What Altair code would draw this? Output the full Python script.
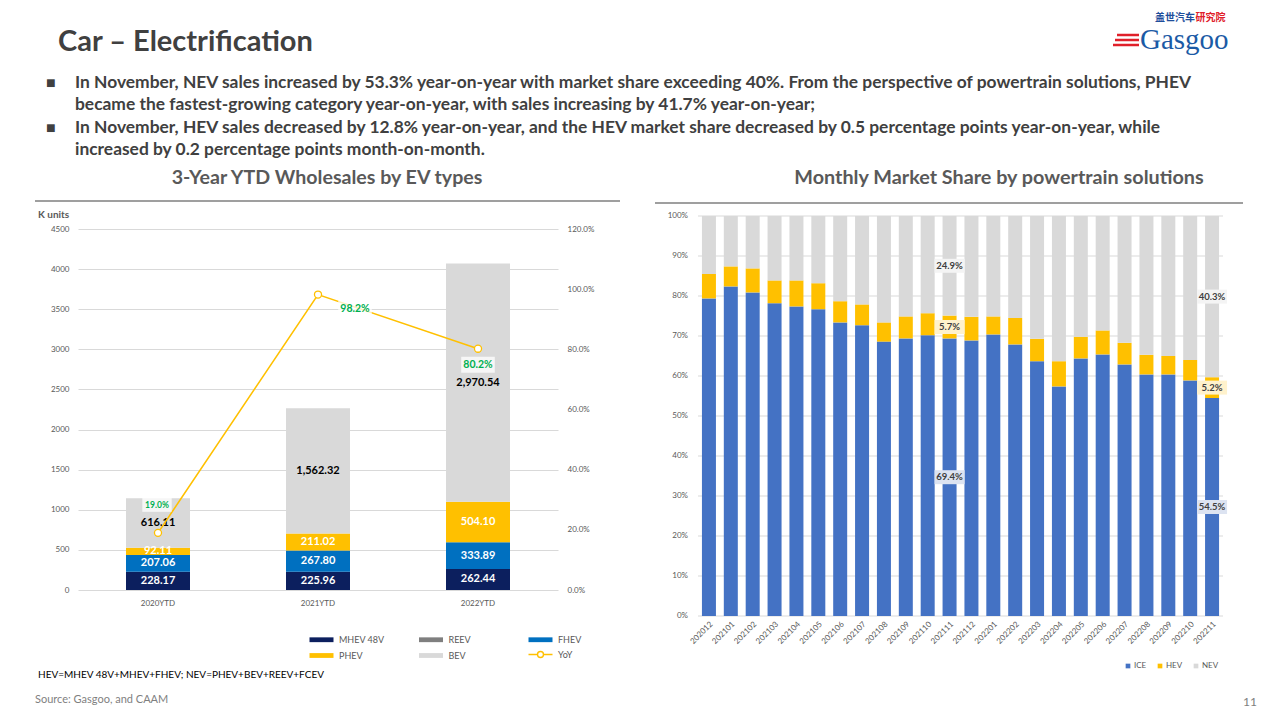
import altair as alt
import pandas as pd

FONT = "Lato"
TXT_DARK = "#404040"
TXT_GRAY = "#595959"
GRID = "#D9D9D9"

# ---------------- slide texts ----------------
slide_title = "Car – Electrification"
bullet_lines = [
    "In November, NEV sales increased by 53.3% year-on-year with market share exceeding 40%. From the perspective of powertrain solutions, PHEV",
    "became the fastest-growing category year-on-year, with sales increasing by 41.7% year-on-year;",
    "In November, HEV sales decreased by 12.8% year-on-year, and the HEV market share decreased by 0.5 percentage points year-on-year, while",
    "increased by 0.2 percentage points month-on-month.",
]
left_title = "3-Year YTD Wholesales by EV types"
right_title = "Monthly Market Share by powertrain solutions"
unit_label = "K units"
note_text = "HEV=MHEV 48V+MHEV+FHEV; NEV=PHEV+BEV+REEV+FCEV"
source_text = "Source: Gasgoo, and CAAM"
page_no = "11"

# ---------------- left chart data ----------------
years = ["2020YTD", "2021YTD", "2022YTD"]
mhev48v = [228.17, 225.96, 262.44]
fhev = [207.06, 267.80, 333.89]
phev = [92.11, 211.02, 504.10]
bev = [616.11, 1562.32, 2970.54]
yoy = [0.190, 0.982, 0.802]
# legend order (filled column by column: MHEV 48V/PHEV, REEV/BEV, FHEV)
ev_types = ["MHEV 48V", "PHEV", "REEV", "BEV", "FHEV"]
ev_colors = ["#0C1F5E", "#FFC000", "#7F7F7F", "#D9D9D9", "#0070C0"]
left_ticks = [0, 500, 1000, 1500, 2000, 2500, 3000, 3500, 4000, 4500]
yoy_ticks = [0, 0.2, 0.4, 0.6, 0.8, 1.0, 1.2]

# ---------------- right chart data ----------------
months = ["202012", "202101", "202102", "202103", "202104", "202105", "202106",
          "202107", "202108", "202109", "202110", "202111", "202112", "202201",
          "202202", "202203", "202204", "202205", "202206", "202207", "202208",
          "202209", "202210", "202211"]
ice_share = [79.4, 82.4, 80.9, 78.2, 77.4, 76.7, 73.4, 72.7, 68.6, 69.4, 70.2, 69.4,
             68.9, 70.4, 67.9, 63.7, 57.4, 64.4, 65.4, 62.9, 60.4, 60.4, 58.9, 54.5]
hev_share = [6.1, 5.0, 6.0, 5.7, 6.5, 6.5, 5.3, 5.2, 4.8, 5.5, 5.5, 5.7,
             5.9, 4.5, 6.6, 5.6, 6.3, 5.4, 6.0, 5.4, 4.9, 4.6, 5.1, 5.2]
nev_share = [14.5, 12.6, 13.1, 16.1, 16.1, 16.8, 21.3, 22.1, 26.6, 25.1, 24.3, 24.9,
             25.2, 25.1, 25.5, 30.7, 36.3, 30.2, 28.6, 31.7, 34.7, 35.0, 36.0, 40.3]
share_types = ["ICE", "HEV", "NEV"]
share_colors = ["#4472C4", "#FFC000", "#D9D9D9"]
share_label_boxes = ["#DCE3F1", "#FFF2CC", "#F4F4F4"]
labelled_months = ["202111", "202211"]
share_ticks = [0, 0.1, 0.2, 0.3, 0.4, 0.5, 0.6, 0.7, 0.8, 0.9, 1.0]

# ---------------- helpers ----------------
ONE = [{"k": 0}]


def txt(s, x, y, size, color, weight="normal", align="left", font=FONT,
        baseline="middle", angle=0, opacity=1.0):
    return alt.Chart(alt.Data(values=[{"t": s}])).mark_text(
        align=align, baseline=baseline, fontSize=size, fontWeight=weight,
        color=color, font=font, angle=angle, opacity=opacity
    ).encode(x=alt.value(x), y=alt.value(y), text="t:N")


def hrule(x1, x2, y, color, width):
    return alt.Chart(alt.Data(values=ONE)).mark_rule(
        color=color, strokeWidth=width
    ).encode(x=alt.value(x1), x2=alt.value(x2), y=alt.value(y))


# ================= LEFT PANEL =================
# plot area: page x 78..558, y 216..590 (0 at 590, 4500 at 229)
LW, LH = 480, 374
l_dom = 4500 * LH / 361.0
r_dom = 1.2 * LH / 361.0

rows = []
seg_types = ["MHEV 48V", "FHEV", "PHEV", "BEV"]
seg_vals = [mhev48v, fhev, phev, bev]
seg_lab = ["white", "white", "white", "black"]
for i, yr in enumerate(years):
    base = 0.0
    for k, (t, vals, lc) in enumerate(zip(seg_types, seg_vals, seg_lab)):
        v = vals[i]
        rows.append({"year": yr, "type": t, "value": v, "ord": k,
                     "mid": base + v / 2, "lc": lc})
        base += v
ldf = pd.DataFrame(rows)
ydf = pd.DataFrame({"year": years, "yoy": yoy, "series": ["YoY"] * len(years)})

lx_scale = alt.Scale(domain=years, paddingInner=0.6, paddingOuter=0.3)
lx = alt.X("year:N", scale=lx_scale,
           axis=alt.Axis(title=None, labelAngle=0, domain=False, ticks=False,
                         labelFont=FONT, labelFontSize=8, labelColor=TXT_GRAY,
                         labelPadding=9))
lx_plain = alt.X("year:N", scale=lx_scale)
ly_scale = alt.Scale(domain=[0, l_dom], nice=False, zero=True)
ry_scale = alt.Scale(domain=[0, r_dom], nice=False, zero=True)

rect_path = "M-1,-0.8H7V0.8H-1Z"
yoy_path = "M-1,0H2M4,0H7M4,0A1,1,0,1,1,2,0A1,1,0,1,1,4,0"

left_legend = alt.Legend(
    orient="none", legendX=230, legendY=419, columns=3, title=None,
    labelFont=FONT, labelFontSize=9, labelColor=TXT_GRAY, symbolSize=36,
    symbolType=rect_path, symbolStrokeWidth=0,
    labelOffset=22, gridAlign="all", columnPadding=32.5, rowPadding=6, padding=0,
)
yoy_legend = alt.Legend(
    orient="none", legendX=449, legendY=434, title=None,
    labelFont=FONT, labelFontSize=9, labelColor=TXT_GRAY, symbolSize=36,
    symbolType=yoy_path, symbolFillColor="white", symbolStrokeWidth=1.4,
    labelOffset=22, padding=0,
)

bars = alt.Chart(ldf).mark_bar().encode(
    x=lx,
    y=alt.Y("value:Q", stack="zero", scale=ly_scale,
            axis=alt.Axis(values=left_ticks, format="d", title=None, grid=True,
                          gridColor=GRID, domain=False, ticks=False, labelFont=FONT,
                          labelFontSize=8, labelColor=TXT_GRAY, labelPadding=9,
                          labelOverlap=False)),
    color=alt.Color("type:N", scale=alt.Scale(domain=ev_types, range=ev_colors),
                    legend=left_legend),
    order=alt.Order("ord:Q"),
)
bar_labels = alt.Chart(ldf).mark_text(font=FONT, fontSize=11, fontWeight="bold").encode(
    x=lx_plain,
    y=alt.Y("mid:Q", scale=ly_scale),
    text=alt.Text("value:Q", format=",.2f"),
    color=alt.Color("lc:N", scale=None),
)
bar_layer = alt.layer(bars, bar_labels)

line = alt.Chart(ydf).mark_line(strokeWidth=1.6).encode(
    x=lx_plain,
    y=alt.Y("yoy:Q", scale=ry_scale,
            axis=alt.Axis(orient="right", values=yoy_ticks, format=".1%", title=None,
                          grid=False, domain=False, ticks=False, labelFont=FONT,
                          labelFontSize=8, labelColor=TXT_GRAY, labelPadding=9,
                          labelOverlap=False)),
    stroke=alt.Stroke("series:N", scale=alt.Scale(domain=["YoY"], range=["#FFC000"]),
                      legend=yoy_legend),
)
pts = alt.Chart(ydf).mark_point(filled=True, fill="white", stroke="#FFC000",
                                strokeWidth=1.3, size=50, opacity=1).encode(
    x=lx_plain, y=alt.Y("yoy:Q", scale=ry_scale))

yoy_layers = [line, pts]
# (dx, dy, font size, box size)
label_offsets = [(-1, -28, 8.5, 196), (37, 14, 10.5, 256), (0, 16, 10.5, 256)]
for yr, (dx, dy, fs, bs) in zip(years, label_offsets):
    sub = ydf[ydf.year == yr]
    box = alt.Chart(sub).mark_point(
        shape="M-2.1,-1H2.1V1H-2.1Z", size=bs, filled=True, fill="white",
        opacity=0.75, strokeWidth=0, xOffset=dx, yOffset=dy
    ).encode(x=lx_plain, y=alt.Y("yoy:Q", scale=ry_scale))
    lab = alt.Chart(sub).mark_text(font=FONT, fontSize=fs, fontWeight="bold",
                                   color="#00B050", dx=dx, dy=dy).encode(
        x=lx_plain, y=alt.Y("yoy:Q", scale=ry_scale),
        text=alt.Text("yoy:Q", format=".1%"))
    yoy_layers += [box, lab]
yoy_layer = alt.layer(*yoy_layers)

left_ann = [
    # anchor: page (8,8)
    alt.Chart(alt.Data(values=ONE)).mark_rule(strokeWidth=0.01, opacity=0).encode(
        x=alt.value(-70), x2=alt.value(-69.9), y=alt.value(-208), y2=alt.value(-207.9)),
    txt(slide_title, -20, -174, 29, TXT_DARK, "bold"),
    txt("■", -32, -133, 16, TXT_DARK),
    txt("■", -32, -88, 16, TXT_DARK),
    txt(bullet_lines[0], -3, -133, 17.4, TXT_DARK, "bold"),
    txt(bullet_lines[1], -3, -111, 17.4, TXT_DARK, "bold"),
    txt(bullet_lines[2], -3, -88, 17.4, TXT_DARK, "bold"),
    txt(bullet_lines[3], -3, -66, 17.4, TXT_DARK, "bold"),
    txt(left_title, 249, -38, 19.6, TXT_GRAY, "bold", align="center"),
    hrule(-43, 542, -15, "#7F7F7F", 1.5),
    txt(unit_label, -40, -1, 10, TXT_GRAY, "bold"),
    txt(note_text, -40, 459, 10, "#000000"),
    txt(source_text, -43, 484, 11, "#7F7F7F"),
]

left = alt.layer(bar_layer, yoy_layer, *left_ann).resolve_scale(y="independent").properties(
    width=LW, height=LH)

# ================= RIGHT PANEL =================
# plot area: page x 698..1223, y 216..616
RW, RH = 525, 400
rrows = []
for i, m in enumerate(months):
    base = 0.0
    for k, (t, vals) in enumerate(zip(share_types, [ice_share, hev_share, nev_share])):
        v = vals[i]
        rrows.append({"month": m, "type": t, "value": v / 100.0, "ord": k,
                      "mid": (base + v / 2) / 100.0, "label": f"{v:.1f}%"})
        base += v
rdf = pd.DataFrame(rrows)
rlab = rdf[rdf.month.isin(labelled_months)]
tick_df = pd.DataFrame({"t": share_ticks})

rx_scale = alt.Scale(domain=months, paddingInner=0.36, paddingOuter=0.18)
rx = alt.X("month:N", scale=rx_scale,
           axis=alt.Axis(title=None, labelAngle=-45, domain=False, ticks=False,
                         labelFont=FONT, labelFontSize=8, labelColor=TXT_GRAY,
                         labelPadding=4, labelOverlap=False))
rx_plain = alt.X("month:N", scale=rx_scale)
rys = alt.Scale(domain=[0, 1], nice=False)

rgrid = alt.Chart(tick_df).mark_rule(color=GRID, strokeWidth=1).encode(
    y=alt.Y("t:Q", scale=rys))
rticks = alt.Chart(tick_df).mark_text(font=FONT, fontSize=8, color=TXT_GRAY,
                                      align="right", baseline="middle").encode(
    x=alt.value(-10), y=alt.Y("t:Q", scale=rys), text=alt.Text("t:Q", format=".0%"))

rbars = alt.Chart(rdf).mark_bar().encode(
    x=rx,
    y=alt.Y("value:Q", stack="zero", scale=rys,
            axis=alt.Axis(labels=False, grid=False, domain=False, ticks=False,
                          title=None)),
    color=alt.Color("type:N", scale=alt.Scale(domain=share_types, range=share_colors),
                    legend=alt.Legend(orient="none", legendX=426, legendY=446,
                                      direction="horizontal", title=None,
                                      symbolType="square", symbolSize=22,
                                      labelFont=FONT, labelFontSize=8,
                                      labelColor=TXT_GRAY, labelOffset=2,
                                      columnPadding=9, padding=0)),
    order=alt.Order("ord:Q"),
)
rbox = alt.Chart(rlab).mark_point(
    shape="M-3,-1.4H3V1.4H-3Z", size=100, filled=True, opacity=1, strokeWidth=0
).encode(
    x=rx_plain, y=alt.Y("mid:Q", scale=rys),
    fill=alt.Fill("type:N", scale=alt.Scale(domain=share_types, range=share_label_boxes),
                  legend=None),
)
rtext = alt.Chart(rlab).mark_text(font=FONT, fontSize=9.5, fontWeight="bold",
                                  color=TXT_DARK).encode(
    x=rx_plain, y=alt.Y("mid:Q", scale=rys), text="label:N")

right_ann = [
    txt(right_title, 301, -38, 19.8, TXT_GRAY, "bold", align="center"),
    hrule(-43, 545, -13, "#7F7F7F", 1.5),
    txt("盖世汽车", 457, -198.5, 10, "#1F4E9B", "bold", font="Noto Sans CJK SC"),
    txt("研究院", 497.5, -198.5, 10, "#E0202A", "bold", font="Noto Sans CJK SC"),
    txt("Gasgoo", 442, -167, 29, "#1B5AA5", font="Liberation Serif", baseline="alphabetic"),
    hrule(419, 441, -181, "#E0202A", 2.5),
    hrule(417, 441, -176, "#E0202A", 2.5),
    hrule(415, 441, -171, "#E0202A", 2.5),
    txt(page_no, 559, 486, 12, "#7F7F7F", align="right"),
]

right = alt.layer(rgrid, rbars, rbox, rtext, rticks, *right_ann).resolve_scale(
    fill="independent").properties(width=RW, height=RH)

chart = alt.hconcat(left, right, spacing=140, bounds="flush").resolve_scale(
    color="independent", stroke="independent", fill="independent"
).resolve_legend(color="independent", stroke="independent").properties(
    padding=0, background="white"
).configure_view(stroke=None)

chart.save("out.html", embed_options={"renderer": "svg", "actions": False})
